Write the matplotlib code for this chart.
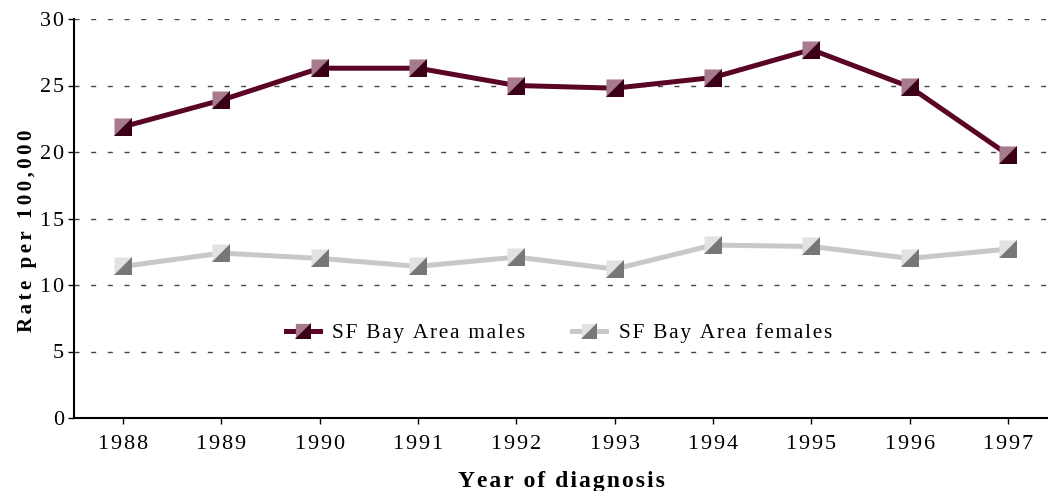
import matplotlib
matplotlib.use("Agg")
import matplotlib.pyplot as plt
from matplotlib.path import Path
from matplotlib.lines import Line2D
from matplotlib.legend_handler import HandlerTuple

years = [1988, 1989, 1990, 1991, 1992, 1993, 1994, 1995, 1996, 1997]
males = [21.9, 23.9, 26.3, 26.3, 25.0, 24.8, 25.6, 27.7, 24.9, 19.8]
females = [11.4, 12.4, 12.0, 11.4, 12.1, 11.2, 13.0, 12.9, 12.0, 12.7]
labels = ["SF Bay Area males", "SF Bay Area females"]
ylabel = "Rate per 100,000"
xlabel = "Year of diagnosis"
yticks = [0, 5, 10, 15, 20, 25, 30]

plt.rcParams['font.family'] = ['Liberation Serif', 'DejaVu Serif']


def spaced(s, sep="\u200a"):
    return sep.join(s)


fig = plt.figure(figsize=(10.48, 4.91), dpi=100)
ax = fig.add_axes([74/1048, 1 - 418/491, 1 - 74/1048, (418-19)/491])

tri_ul = Path([(-1, 1), (1, 1), (-1, -1), (-1, 1)], [Path.MOVETO, Path.LINETO, Path.LINETO, Path.CLOSEPOLY])
tri_lr = Path([(1, 1), (1, -1), (-1, -1), (1, 1)], [Path.MOVETO, Path.LINETO, Path.LINETO, Path.CLOSEPOLY])

styles = [
    (males, "#5a0426", "#a77b8d", "#3a0017"),
    (females, "#c8c8c8", "#e2e2e2", "#777777"),
]
handles = []
for vals, lc, c1, c2 in styles:
    ax.plot(years, vals, color=lc, lw=3.6, zorder=3, solid_capstyle='butt')
    ax.plot(years, vals, ls='none', marker=tri_ul, ms=13, mfc=c1, mew=0, zorder=4)
    ax.plot(years, vals, ls='none', marker=tri_lr, ms=13, mfc=c2, mew=0, zorder=4)
    h = (Line2D([], [], color=lc, lw=3.6),
         Line2D([], [], ls='none', marker=tri_ul, ms=11, mfc=c1, mew=0),
         Line2D([], [], ls='none', marker=tri_lr, ms=11, mfc=c2, mew=0))
    handles.append(h)

ax.set_xlim(1987.5, 1988 + (1048 - 123) / 98.33)
ax.set_ylim(0, 30)
ax.set_yticks(yticks)
ax.set_yticklabels([spaced(str(v)) for v in yticks])
ax.set_xticks(years)
ax.set_xticklabels([spaced(str(y)) for y in years])
for y in yticks[1:]:
    ax.axhline(y, color="#444444", lw=1.0, ls=(0, (3.6, 8.4)), zorder=1)

for s in ['top', 'right']:
    ax.spines[s].set_visible(False)
for s in ['left', 'bottom']:
    ax.spines[s].set_linewidth(1.5)
ax.tick_params(axis='both', direction='out', length=4, width=1, labelsize=16)
ax.tick_params(axis='x', pad=8)
ax.tick_params(axis='y', pad=3)

ax.set_ylabel(spaced(ylabel, "\u2006"), fontsize=15, fontweight='bold')
ax.yaxis.set_label_coords(-0.038, (418 - 231) / (418 - 19))
ax.set_xlabel(spaced(xlabel), fontsize=17, fontweight='bold')
ax.xaxis.set_label_coords((561 - 74) / (1048 - 74), -0.133)

leg = ax.legend(handles, [spaced(l) for l in labels],
                handler_map={tuple: HandlerTuple(ndivide=1, pad=0)},
                loc='center', bbox_to_anchor=((559 - 74) / (1048 - 74), (418 - 333) / (418 - 19)),
                ncol=2, frameon=False, fontsize=15.3, handlelength=1.6, columnspacing=2.2,
                handletextpad=0.6)

fig.savefig("out.png", dpi=100)
